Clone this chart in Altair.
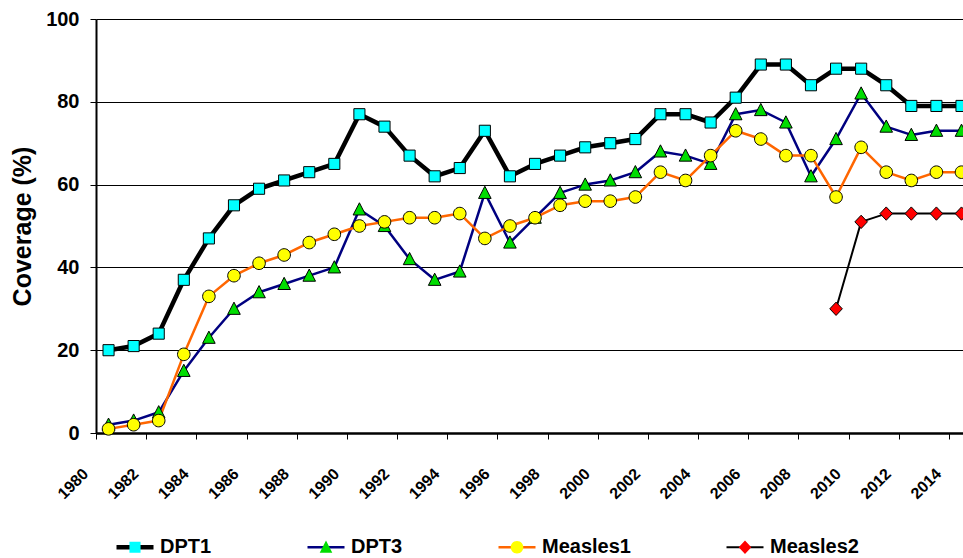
import altair as alt
import pandas as pd
import math

# Immunisation coverage by year (%)
years = list(range(1980, 2015))
dpt1 = [20, 21, 24, 37, 47, 55, 59, 61, 63, 65,
        77, 74, 67, 62, 64, 73, 62, 65, 67, 69,
        70, 71, 77, 77, 75, 81, 89, 89, 84, 88,
        88, 84, 79, 79, 79]
dpt3 = [2, 3, 5, 15, 23, 30, 34, 36, 38, 40,
        54, 50, 42, 37, 39, 58, 46, 52, 58, 60,
        61, 63, 68, 67, 65, 77, 78, 75, 62, 71,
        82, 74, 72, 73, 73]
measles1 = [1, 2, 3, 19, 33, 38, 41, 43, 46, 48,
            50, 51, 52, 52, 53, 47, 50, 52, 55, 56,
            56, 57, 63, 61, 67, 73, 71, 67, 67, 57,
            69, 63, 61, 63, 63]
measles2_years = [2009, 2010, 2011, 2012, 2013, 2014]
measles2 = [30, 51, 53, 53, 53, 53]

series_names = ["DPT1", "DPT3", "Measles1", "Measles2"]
y_ticks = [0, 20, 40, 60, 80, 100]
year_labels = list(range(1980, 2015, 2))
# tick marks sit on the boundaries between years
year_boundaries = [y - 0.5 for y in years]

rows = []
for name, ys, vals in [("DPT1", years, dpt1), ("DPT3", years, dpt3),
                       ("Measles1", years, measles1), ("Measles2", measles2_years, measles2)]:
    for yr, v in zip(ys, vals):
        rows.append({"year": yr, "value": v, "series": name})
df = pd.DataFrame(rows)
labels_df = pd.DataFrame({"label_year": year_labels})

FONT = "Liberation Sans"

line_colors = ["#000000", "#000080", "#FF6600", "#000000"]
line_widths = [4.5, 2.5, 2.5, 2]
marker_fills = ["#00FFFF", "#00DD00", "#FFFF00", "#FF0000"]

# Symbol paths live in a [-1, 1] box (37 px wide here). The zero-length
# corner segments give every symbol the same bounding box, so the line
# key and the marker key lay out identically and sit on top of each other.
frame = "M-1,-1L-1,-1M1,1L1,1"
sq = "M-0.3,-0.3H0.3V0.3H-0.3Z"
tri = "M0,-0.36L0.34,0.3H-0.34Z"
circ = "M" + "L".join(
    f"{0.34 * math.cos(2 * math.pi * k / 28):.3f},{0.34 * math.sin(2 * math.pi * k / 28):.3f}"
    for k in range(28)) + "Z"
dia = "M0,-0.36L0.34,0L0,0.36L-0.34,0Z"
marker_paths = [frame + p for p in (sq, tri, circ, dia)]
# key lines drawn as thin filled bars, as thick as each series' line
key_bars = [frame + f"M-1,-{w / 37:.3f}H1V{w / 37:.3f}H-1Z" for w in line_widths]

SYM = 1369  # 37 px symbol box

legend_common = dict(
    orient="none", legendX=20, legendY=509, direction="horizontal",
    columns=4, columnPadding=93, title=None, padding=0,
    symbolSize=SYM, symbolStrokeWidth=1, symbolOpacity=1,
    labelFont=FONT, labelFontSize=20, labelFontWeight="bold",
    labelOffset=6, labelColor="black", labelLimit=300,
)

bar_legend = alt.Legend(symbolStrokeColor="transparent", zindex=1, **legend_common)
marker_legend = alt.Legend(symbolStrokeColor="black", labelOpacity=0, zindex=2,
                           **legend_common)

# tick marks only; the slanted year labels are drawn by a text layer
x_axis = alt.Axis(
    values=year_boundaries, labels=False,
    title=None, grid=False, tickSize=6, tickColor="black", tickWidth=1,
    domainColor="black", domainWidth=2.5,
)

y_axis = alt.Axis(
    values=y_ticks, title="Coverage (%)", grid=True, gridColor="black",
    gridWidth=1.2, tickSize=6, tickColor="black", tickWidth=1,
    domainColor="black", domainWidth=2,
    labelFont=FONT, labelFontSize=20, labelFontWeight="bold", labelColor="black",
    labelPadding=11, labelFlush=False, labelOverlap=False,
    titleFont=FONT, titleFontSize=25, titleFontWeight="bold", titleColor="black",
    titleAngle=270, titleX=-66, titleY=207, titleAlign="center",
    titleBaseline="alphabetic",
)

x_scale = alt.Scale(domain=[1979.5, 2014.06], nice=False, zero=False)
x_enc = alt.X("year:Q", scale=x_scale, axis=x_axis)
y_enc = alt.Y("value:Q", scale=alt.Scale(domain=[0, 100], nice=False), axis=y_axis)

base = alt.Chart(df)

lines = base.mark_line(strokeJoin="round", strokeCap="round").encode(
    x=x_enc,
    y=y_enc,
    stroke=alt.Stroke("series:N", scale=alt.Scale(domain=series_names, range=line_colors),
                      legend=None),
    strokeWidth=alt.StrokeWidth("series:N",
                                scale=alt.Scale(type="ordinal", domain=series_names,
                                                range=line_widths),
                                legend=None),
    order="year:Q",
)

points = base.mark_point(
    filled=True, size=SYM, stroke="black", strokeWidth=1, opacity=1
).encode(
    x=alt.X("year:Q"),
    y=alt.Y("value:Q"),
    fill=alt.Fill("series:N", scale=alt.Scale(domain=series_names, range=marker_fills),
                  legend=marker_legend),
    shape=alt.Shape("series:N", scale=alt.Scale(domain=series_names, range=marker_paths),
                    legend=marker_legend),
)

# key-only layer: no rows survive the filter, it just supplies the line key
key_lines = base.transform_filter("false").mark_point(
    filled=True, size=SYM, stroke="transparent", strokeWidth=1
).encode(
    x=alt.X("year:Q"),
    y=alt.Y("value:Q"),
    fill=alt.Fill("series:N", scale=alt.Scale(domain=series_names, range=line_colors),
                  legend=bar_legend),
    shape=alt.Shape("series:N", scale=alt.Scale(domain=series_names, range=key_bars),
                    legend=bar_legend),
)

# year labels, slanted, hung below and left of the tick that opens each
# labelled year (dx/dy act in the rotated frame of the text)
year_text = alt.Chart(labels_df).transform_calculate(
    tick="datum.label_year - 0.5"
).mark_text(
    angle=315, align="center", baseline="middle", dx=-27.4, dy=-4.8,
    font=FONT, fontSize=16, fontWeight="bold", color="black",
).encode(
    x=alt.X("tick:Q"),
    y=alt.value(449),
    text=alt.Text("label_year:Q", format="d"),
)

chart = alt.layer(lines, key_lines, points, year_text).resolve_scale(
    fill="independent", shape="independent"
).resolve_legend(
    fill="independent", shape="independent"
).properties(
    width=867, height=414,
    padding={"left": 96, "top": 19, "right": 0, "bottom": 125},
    autosize=alt.AutoSizeParams(type="none"),
    background="white",
).configure_view(stroke=None)

chart.save("out.html", embed_options={"renderer": "svg", "actions": False})
